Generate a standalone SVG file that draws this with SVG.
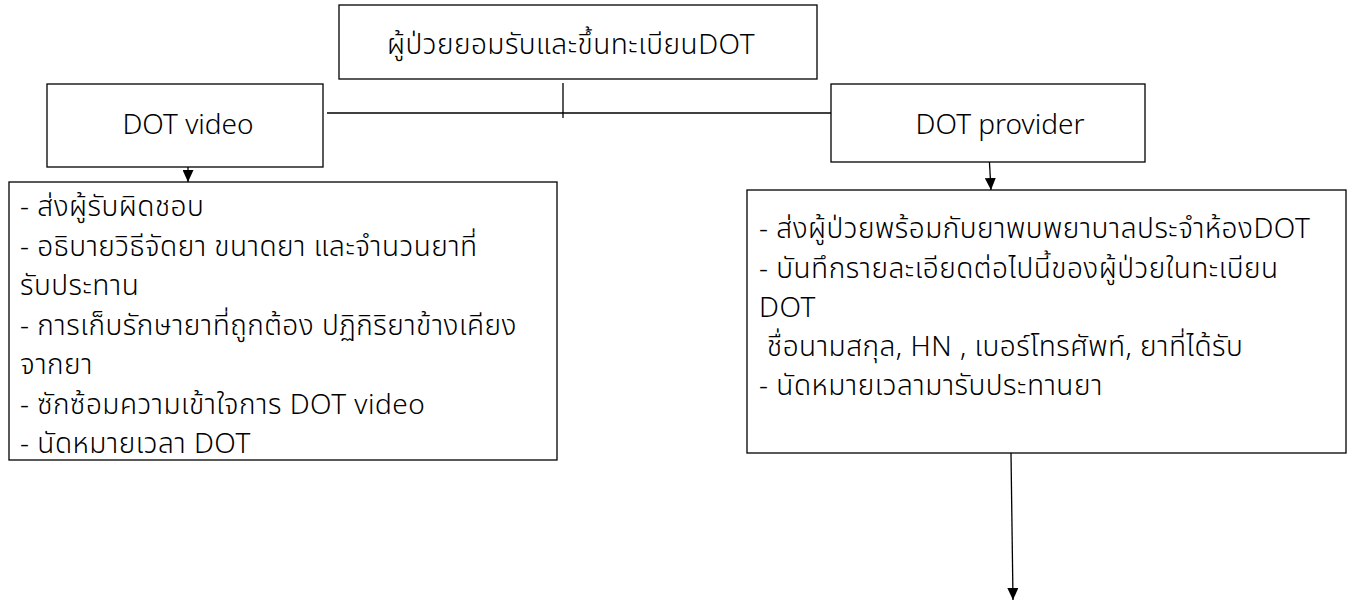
<svg xmlns="http://www.w3.org/2000/svg" width="1354" height="600" viewBox="0 0 1354 600">
  <style>
    .box { fill: #ffffff; stroke: #000000; stroke-width: 1.3; }
    .t { font-family: "Noto Sans Thai", "Noto Sans", "Liberation Sans", sans-serif; font-size: 28px; font-weight: 300; fill: #000000; letter-spacing: 0.5px; }
    .s { letter-spacing: 0; }
    .c { text-anchor: middle; }
    .ln { stroke: #000000; stroke-width: 1.3; fill: none; }
  </style>
  <defs>
    <marker id="ah" markerUnits="userSpaceOnUse" markerWidth="12" markerHeight="11" refX="12" refY="5.5" orient="auto">
      <path d="M0,0 L12,5.5 L0,11 z" fill="#000000"/>
    </marker>
  </defs>
  <rect width="1354" height="600" fill="#ffffff"/>

  <g id="connectors">
    <line class="ln" x1="563" y1="83" x2="563" y2="118"/>
    <line class="ln" x1="327" y1="113" x2="832" y2="113"/>
    <line class="ln" x1="188" y1="158" x2="188" y2="182" marker-end="url(#ah)"/>
    <line class="ln" x1="989" y1="154" x2="991" y2="190" marker-end="url(#ah)"/>
    <line class="ln" x1="1011" y1="453" x2="1013" y2="600" marker-end="url(#ah)"/>
  </g>

  <g id="node-register">
    <rect class="box" x="339" y="5" width="478" height="74"/>
    <text class="t c" x="571" y="54">ผู้ป่วยยอมรับและขึ้นทะเบียนDOT</text>
  </g>

  <g id="node-dot-video">
    <rect class="box" x="47" y="84" width="276" height="83"/>
    <text class="t s c" x="188" y="134">DOT video</text>
  </g>

  <g id="node-dot-provider">
    <rect class="box" x="831" y="84" width="314" height="78"/>
    <text class="t s c" x="1000" y="134">DOT provider</text>
  </g>

  <g id="node-video-steps">
    <rect class="box" x="9" y="182" width="548" height="278"/>
    <text class="t" x="20" y="216">- ส่งผู้รับผิดชอบ</text>
    <text class="t" x="20" y="256">- อธิบายวิธีจัดยา ขนาดยา และจำนวนยาที่</text>
    <text class="t" x="20" y="295">รับประทาน</text>
    <text class="t" x="20" y="335">- การเก็บรักษายาที่ถูกต้อง ปฏิกิริยาข้างเคียง</text>
    <text class="t" x="20" y="374">จากยา</text>
    <text class="t" x="20" y="414">- ซักซ้อมความเข้าใจการ DOT video</text>
    <text class="t" x="20" y="453">- นัดหมายเวลา DOT</text>
  </g>

  <g id="node-provider-steps">
    <rect class="box" x="747" y="190" width="599" height="263"/>
    <text class="t" x="759" y="238">- ส่งผู้ป่วยพร้อมกับยาพบพยาบาลประจำห้องDOT</text>
    <text class="t" x="759" y="278">- บันทึกรายละเอียดต่อไปนี้ของผู้ป่วยในทะเบียน</text>
    <text class="t" x="759" y="317">DOT</text>
    <text class="t" x="767" y="356">ชื่อนามสกุล, HN , เบอร์โทรศัพท์, ยาที่ได้รับ</text>
    <text class="t" x="759" y="395">- นัดหมายเวลามารับประทานยา</text>
  </g>
</svg>
